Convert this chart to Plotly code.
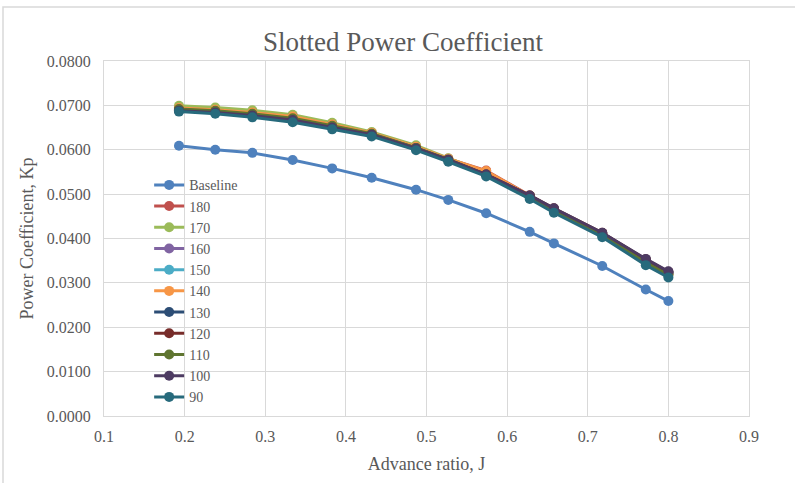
import plotly.graph_objects as go

J = [0.193, 0.238, 0.284, 0.334, 0.383, 0.432, 0.487, 0.527, 0.574, 0.628, 0.658, 0.718, 0.772, 0.800]

baseline = [0.0609, 0.0600, 0.0593, 0.0577, 0.0558, 0.0537, 0.0510, 0.0487, 0.0457, 0.0415, 0.0389, 0.0338, 0.0285, 0.0259]
s180 = [0.0695, 0.0691, 0.0685, 0.0676, 0.0657, 0.0638, 0.0607, 0.0580, 0.0553, 0.0497, 0.0466, 0.0411, 0.0350, 0.0321]
s170 = [0.0699, 0.0695, 0.0689, 0.0679, 0.0661, 0.0640, 0.0610, 0.0581, 0.0549, 0.0496, 0.0466, 0.0410, 0.0349, 0.0320]
s160 = [0.0693, 0.0689, 0.0683, 0.0674, 0.0656, 0.0637, 0.0606, 0.0579, 0.0546, 0.0495, 0.0465, 0.0410, 0.0349, 0.0322]
s150 = [0.0691, 0.0687, 0.0681, 0.0672, 0.0655, 0.0636, 0.0605, 0.0578, 0.0545, 0.0494, 0.0464, 0.0409, 0.0348, 0.0321]
s140 = [0.0694, 0.0690, 0.0684, 0.0675, 0.0657, 0.0638, 0.0607, 0.0580, 0.0552, 0.0496, 0.0466, 0.0410, 0.0349, 0.0320]
s130 = [0.0690, 0.0686, 0.0679, 0.0669, 0.0652, 0.0635, 0.0604, 0.0578, 0.0544, 0.0496, 0.0467, 0.0412, 0.0352, 0.0324]
s120 = [0.0689, 0.0685, 0.0678, 0.0668, 0.0651, 0.0634, 0.0603, 0.0577, 0.0544, 0.0497, 0.0468, 0.0413, 0.0353, 0.0325]
s110 = [0.0692, 0.0688, 0.0681, 0.0671, 0.0654, 0.0636, 0.0604, 0.0577, 0.0543, 0.0494, 0.0463, 0.0408, 0.0346, 0.0318]
s100 = [0.0688, 0.0684, 0.0677, 0.0667, 0.0650, 0.0634, 0.0603, 0.0577, 0.0544, 0.0497, 0.0468, 0.0413, 0.0354, 0.0326]
s90 = [0.0686, 0.0681, 0.0673, 0.0662, 0.0646, 0.0630, 0.0599, 0.0573, 0.0540, 0.0489, 0.0458, 0.0403, 0.0340, 0.0312]

names = ["Baseline", "180", "170", "160", "150", "140", "130", "120", "110", "100", "90"]
series = [baseline, s180, s170, s160, s150, s140, s130, s120, s110, s100, s90]
colors = ["#4F81BD", "#C0504D", "#9BBB59", "#8064A2", "#4BACC6", "#F79646",
          "#2C4D75", "#772C2A", "#5F7530", "#4D3B62", "#276A7C"]

fig = go.Figure()
for n, ys, c in zip(names, series, colors):
    fig.add_trace(go.Scatter(x=J, y=ys, name=n, mode="lines+markers",
                             line=dict(color=c, width=3),
                             marker=dict(color=c, size=10)))

ff = "Liberation Serif, Times New Roman, serif"
txt = "#595959"
grid = "#d9d9d9"
fig.update_layout(
    width=795, height=483,
    margin=dict(l=104, r=46, t=61, b=67),
    paper_bgcolor="white", plot_bgcolor="white",
    font=dict(family=ff, color=txt, size=14),
    title=dict(text="Slotted Power Coefficient", x=(403 - 104) / 645, xref="paper",
               xanchor="center", y=1 - 42 / 483, yanchor="middle",
               font=dict(size=27, color=txt, family=ff)),
    showlegend=True,
    legend=dict(x=0.07, y=0.695, xanchor="left", yanchor="top",
                bgcolor="rgba(0,0,0,0)", font=dict(size=14, color=txt, family=ff),
                tracegroupgap=0, itemwidth=30),
    xaxis=dict(range=[0.1, 0.9], dtick=0.1, tick0=0.1, showgrid=True, gridcolor=grid,
               gridwidth=1, zeroline=False, showline=True, linecolor=grid, mirror=True,
               tickfont=dict(size=16, family=ff, color=txt), ticks="", tickformat=".1f",
               ticklabelstandoff=6,
               title=dict(text="Advance ratio, J", font=dict(size=18, family=ff, color=txt),
                          standoff=13)),
    yaxis=dict(range=[0, 0.08], dtick=0.01, showgrid=True, gridcolor=grid, gridwidth=1,
               zeroline=False, showline=True, linecolor=grid, mirror=True,
               tickformat=".4f", tickfont=dict(size=16, family=ff, color=txt), ticks="",
               ticklabelstandoff=9,
               title=dict(text="Power Coefficient, Kp", font=dict(size=18, family=ff, color=txt),
                          standoff=8)),
)

# outer chart border
fig.add_shape(type="rect", xref="paper", yref="paper",
              x0=(3 - 104) / 645, x1=(800 - 104) / 645,
              y0=(416 - 490) / 355, y1=(416 - 7) / 355,
              line=dict(color="#d9d9d9", width=1.5), layer="below")

fig.write_html("out.html")
